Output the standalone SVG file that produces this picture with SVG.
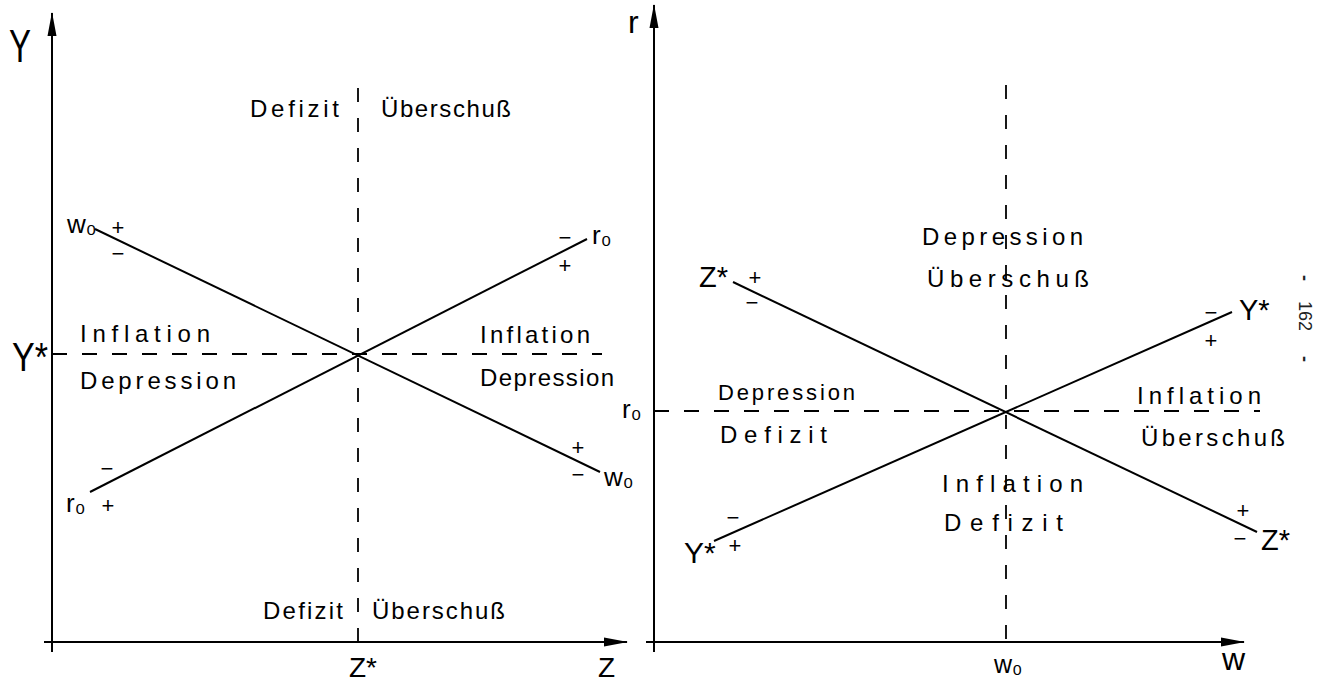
<svg xmlns="http://www.w3.org/2000/svg" width="1321" height="683" viewBox="0 0 1321 683">
<defs>
<marker id="ah" viewBox="0 0 24 10" refX="23" refY="5" markerWidth="24" markerHeight="10" orient="auto" markerUnits="userSpaceOnUse"><path d="M0,0.5 L24,5 L0,9.5 z" fill="#000"/></marker>
<style>
text{font-family:"Liberation Sans","DejaVu Sans",sans-serif;fill:#000}
.lbl{font-size:24px}
.pm{font-size:22px;text-anchor:middle}
.sym{font-size:27px}
.ax{stroke:#000;stroke-width:2;fill:none}
.curve{stroke:#000;stroke-width:2;fill:none}
.dash{stroke:#000;stroke-width:1.8;stroke-dasharray:14 16;fill:none}
.dashh{stroke:#000;stroke-width:1.8;stroke-dasharray:15 15;fill:none}
</style>
</defs>
<rect width="1321" height="683" fill="#fff"/>

<g id="left-panel">
  <g id="left-axes">
    <line class="ax" x1="52" y1="652" x2="52" y2="13" marker-end="url(#ah)"/>
    <line class="ax" x1="44" y1="642" x2="627" y2="642" marker-end="url(#ah)"/>
    <text class="sym" x="9" y="62" textLength="22" lengthAdjust="spacingAndGlyphs" style="font-size:46px">Y</text>
    <text class="sym" x="12" y="371" textLength="36" lengthAdjust="spacingAndGlyphs" style="font-size:40px">Y*</text>
    <text class="sym" x="349" y="677" style="font-size:28px">Z*</text>
    <text class="sym" x="598" y="677" style="font-size:28px">Z</text>
  </g>
  <g id="left-connectors">
    <line class="dash" x1="358" y1="88" x2="358" y2="642"/>
    <line class="dashh" x1="52" y1="354" x2="602" y2="354"/>
    <line class="curve" x1="95" y1="229" x2="600" y2="472"/>
    <line class="curve" x1="90" y1="492" x2="587" y2="239"/>
  </g>
  <g id="left-w0-top">
    <text class="sym" x="67" y="233" style="font-size:26px">w₀</text>
    <text class="pm" x="118" y="235">+</text>
    <text class="pm" x="118" y="261">−</text>
  </g>
  <g id="left-r0-top">
    <text class="pm" x="565" y="245">−</text>
    <text class="pm" x="565" y="273">+</text>
    <text class="sym" x="592" y="244" style="font-size:26px">r₀</text>
  </g>
  <g id="left-w0-bottom">
    <text class="pm" x="578" y="455">+</text>
    <text class="pm" x="578" y="482">−</text>
    <text class="sym" x="604" y="486" style="font-size:26px">w₀</text>
  </g>
  <g id="left-r0-bottom">
    <text class="pm" x="107" y="476">−</text>
    <text class="pm" x="108" y="513">+</text>
    <text class="sym" x="66" y="512" style="font-size:26px">r₀</text>
  </g>
  <g id="left-labels">
    <text class="lbl" x="250" y="117" textLength="89">Defizit</text>
    <text class="lbl" x="381" y="117" textLength="130">Überschuß</text>
    <text class="lbl" x="80" y="342" textLength="130">Inflation</text>
    <text class="lbl" x="80" y="389" textLength="156">Depression</text>
    <text class="lbl" x="480" y="343" textLength="110">Inflation</text>
    <text class="lbl" x="480" y="386" textLength="134">Depression</text>
    <text class="lbl" x="263" y="619" textLength="80">Defizit</text>
    <text class="lbl" x="372" y="619" textLength="133">Überschuß</text>
  </g>
</g>

<g id="right-panel">
  <g id="right-axes">
    <line class="ax" x1="654" y1="652" x2="654" y2="5" marker-end="url(#ah)"/>
    <line class="ax" x1="646" y1="642" x2="1244" y2="642" marker-end="url(#ah)"/>
    <text class="sym" x="628" y="33" style="font-size:32px">r</text>
    <text class="sym" x="622" y="418" style="font-size:26px">r₀</text>
    <text class="sym" x="994" y="673" style="font-size:25px">w₀</text>
    <text class="sym" x="1222" y="670" style="font-size:32px">w</text>
  </g>
  <g id="right-connectors">
    <line class="dash" x1="1006" y1="85" x2="1006" y2="642"/>
    <line class="dashh" x1="654" y1="411" x2="1260" y2="411"/>
    <line class="curve" x1="733" y1="282" x2="1257" y2="532"/>
    <line class="curve" x1="714" y1="541" x2="1232" y2="312"/>
  </g>
  <g id="right-z-top">
    <text class="sym" x="699" y="287" style="font-size:29px">Z*</text>
    <text class="pm" x="755" y="285">+</text>
    <text class="pm" x="752" y="310">−</text>
  </g>
  <g id="right-y-top">
    <text class="pm" x="1211" y="320">−</text>
    <text class="pm" x="1211" y="348">+</text>
    <text class="sym" x="1239" y="320" style="font-size:29px">Y*</text>
  </g>
  <g id="right-y-bottom">
    <text class="pm" x="733" y="525">−</text>
    <text class="pm" x="735" y="553">+</text>
    <text class="sym" x="684" y="563" style="font-size:30px">Y*</text>
  </g>
  <g id="right-z-bottom">
    <text class="pm" x="1243" y="518">+</text>
    <text class="pm" x="1240" y="546">−</text>
    <text class="sym" x="1261" y="550" style="font-size:29px">Z*</text>
  </g>
  <g id="right-labels">
    <text class="lbl" x="922" y="245" textLength="161">Depression</text>
    <text class="lbl" x="927" y="287" textLength="162">Überschuß</text>
    <text class="lbl" x="718" y="400" textLength="137" style="font-size:22px">Depression</text>
    <text class="lbl" x="720" y="443" textLength="107">Defizit</text>
    <text class="lbl" x="1137" y="404" textLength="124">Inflation</text>
    <text class="lbl" x="1141" y="446" textLength="144">Überschuß</text>
    <text class="lbl" x="942" y="492" textLength="141">Inflation</text>
    <text class="lbl" x="944" y="531" textLength="119">Defizit</text>
  </g>
</g>

<g id="page-number">
  <text x="0" y="0" transform="translate(1299,275) rotate(90)" style="font-size:18px;fill:#222"><tspan font-weight="bold">-</tspan><tspan dx="20">162</tspan><tspan dx="25" font-weight="bold">-</tspan></text>
</g>
</svg>
